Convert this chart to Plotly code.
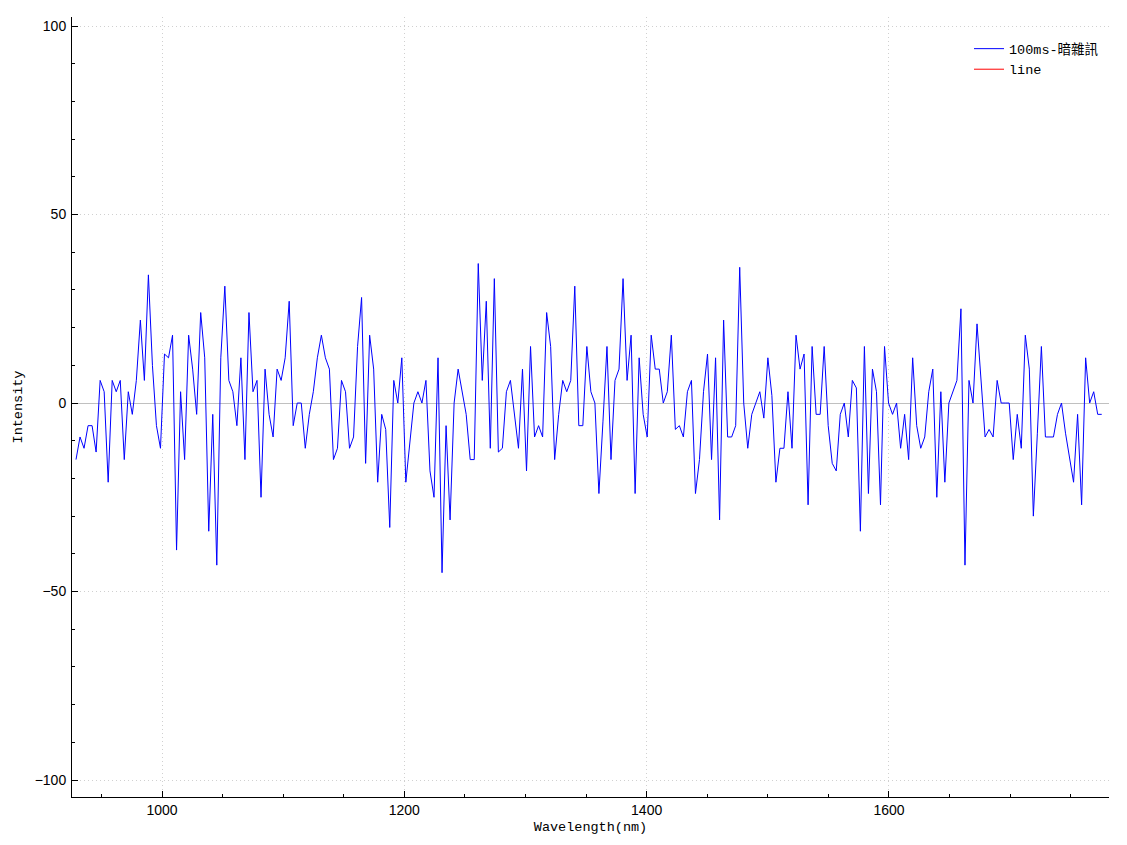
import plotly.graph_objects as go

# Wavelength grid (nm): uniform instrument grid
WL_START = 929.0
WL_STEP = 3.32
N_POINTS = 256
wavelength = [round(WL_START + WL_STEP * i, 2) for i in range(N_POINTS)]

intensity_part1 = [-15, -9, -12, -6, -6, -13, 6, 3, -21, 6, 3, 6, -15, 3, -3, 6, 22, 6, 34, 10,
                   -6, -12, 13, 12, 18, -39, 3, -15, 18, 9, -3, 24, 12, -34, -3, -43, 12, 31, 6, 3,
                   -6, 12, -15, 24, 3, 6]
intensity_part2 = [-25, 9, -3, -9, 9, 6, 12, 27, -6, 0, 0, -12, -3, 3, 12, 18, 12, 9, -15, -12,
                   6, 3, -12, -9, 15, 28, -16, 18, 9, -21, -3, -7, -33, 6, 0, 12, -21, -11, 0, 3,
                   0, 6, -18, -25, 12, -45, -6, -31]
intensity_part3 = [0, 9, 3, -3, -15, -15, 37, 6, 27, -12, 33, -13, -12, 3, 6, -3, -12, 9, -18, 15,
                   -9, -6, -9, 24, 15, -15, -3, 6, 3, 6, 31, -6, -6, 15, 3, 0, -24, -5, 15, -15,
                   6, 9, 33, 6, 18, -24, 12]
intensity_part4 = [-3, -9, 18, 9, 9, 0, 3, 18, -7, -6, -9, 3, 6, -24, -15, 3, 13, -15, 12, -31,
                   22, -9, -9, -6, 36, 0, -12, -3, 0, 3, -4, 12, 2, -21, -12, -12, 3, -12, 18, 9,
                   13, -27, 15, -3, -3, 15]
intensity_part5 = [-6, -16, -18, -3, 0, -9, 6, 4, -34, 15, -24, 9, 3, -27, 15, 0, -3, 0, -12, -3,
                   -15, 12, -6, -12, -9, 3, 9, -25, 3, -21, 0, 3, 6, 25, -43, 6, 0, 21, 6, -9,
                   -7, -9, 6]
intensity_part6 = [0, 0, 0, -15, -3, -12, 18, 9, -30, -8, 15, -9, -9, -9, -3, 0, -8, -14, -21, -3,
                   -27, 12, 0, 3, -3, -3]
intensity = (intensity_part1 + intensity_part2 + intensity_part3 +
             intensity_part4 + intensity_part5 + intensity_part6)

series_names = ["100ms-暗雜訊", "line"]
y_ticks = [-100, -50, 0, 50, 100]
x_ticks = [1000, 1200, 1400, 1600]

MONO = "Liberation Mono, Noto Sans CJK TC, monospace"
SANS = "Liberation Sans, Arial, sans-serif"

fig = go.Figure()
fig.add_trace(go.Scatter(x=wavelength, y=intensity, mode="lines", name=series_names[0],
                         line=dict(color="#0000FF", width=1)))
fig.add_trace(go.Scatter(x=[None], y=[None], mode="lines", name=series_names[1],
                         line=dict(color="#FF0000", width=1)))

axis_common = dict(
    showline=True, linecolor="black", linewidth=1,
    ticks="inside", ticklen=6, tickcolor="black", tickwidth=1,
    showgrid=True, gridcolor="#d0d0d0", griddash="1px,3px", gridwidth=1,
    tickfont=dict(family=SANS, size=14, color="black"),
    mirror=False, automargin=False,
)

fig.update_xaxes(
    range=[925.7, 1781.6], tickvals=x_ticks, zeroline=False,
    title=dict(text="Wavelength(nm)", font=dict(family=MONO, size=13.5, color="black"), standoff=4),
    minor=dict(dtick=50, tick0=0, ticks="inside", ticklen=3, tickcolor="black", showgrid=False),
    **axis_common,
)
fig.update_yaxes(
    range=[-104.5, 102.4], tickvals=y_ticks, zeroline=True, zerolinecolor="#c0c0c0", zerolinewidth=1,
    ticklabelstandoff=2,
    title=dict(text="Intensity", font=dict(family=MONO, size=13.5, color="black"), standoff=8),
    minor=dict(dtick=10, tick0=0, ticks="inside", ticklen=3, tickcolor="black", showgrid=False),
    **axis_common,
)

# page body has an 8px margin; figure sized/margined so the plot area lands at
# x 72..1109, y 17..797 in the 1127x845 window
fig.update_layout(
    width=1111, height=829,
    margin=dict(l=64, r=10, t=9, b=40),
    paper_bgcolor="white", plot_bgcolor="white",
    font=dict(family=MONO, size=13.5, color="black"),
    showlegend=True,
    legend=dict(x=0.865, y=0.979, xanchor="left", yanchor="top",
                bgcolor="rgba(255,255,255,0)", borderwidth=0,
                font=dict(family=MONO, size=13.5, color="black"),
                itemwidth=30, tracegroupgap=0),
)

fig.write_html("out.html")
